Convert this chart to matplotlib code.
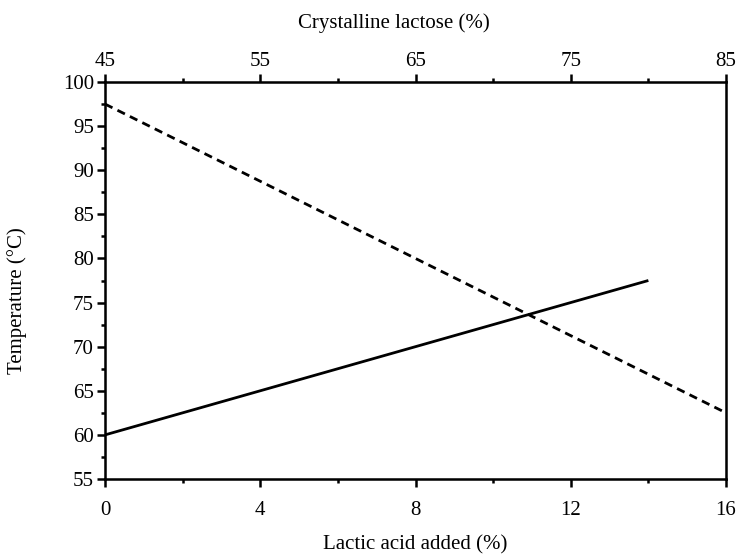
import matplotlib
matplotlib.use("Agg")
from matplotlib import pyplot as plt
from matplotlib.ticker import MultipleLocator

# data
lactic = [0, 14]
temp_solid = [60, 77.5]
lactic_d = [0, 16]
temp_dashed = [97.5, 62.5]
lactose_ticks = [45, 55, 65, 75, 85]
lactose_minor = [50, 60, 70, 80]

plt.rcParams['font.family'] = ['Liberation Serif', 'DejaVu Serif']
plt.rcParams['font.size'] = 15

fig = plt.figure(figsize=(7.36, 5.54), dpi=100)
ax = fig.add_axes([105 / 736, 1 - 479 / 554, 621 / 736, 397 / 554])

ax.plot(lactic, temp_solid, color='black', lw=2, solid_capstyle='butt')
ax.plot(lactic_d, temp_dashed, color='black', lw=2, dashes=(3, 2))

ax.set_xlim(0, 16)
ax.set_ylim(55, 100)
ax.xaxis.set_major_locator(MultipleLocator(4))
ax.xaxis.set_minor_locator(MultipleLocator(2))
ax.yaxis.set_major_locator(MultipleLocator(5))
ax.yaxis.set_minor_locator(MultipleLocator(2.5))
ax.tick_params(which='major', direction='out', length=6, width=1.8, labelsize=15)
ax.tick_params(which='minor', direction='out', length=3, width=1.8)
ax.tick_params(axis='x', pad=10)
ax.tick_params(axis='y', pad=2)
for s in ax.spines.values():
    s.set_linewidth(1.8)

ax.set_xlabel("Lactic acid added (%)", fontsize=15, labelpad=11)
ax.set_ylabel("Temperature (°C)", fontsize=15, labelpad=24)
ax.yaxis.set_label_coords(-78 / 621, 0.45)

top = ax.twiny()
top.set_xlim(45, 85)
top.set_xticks(lactose_ticks)
top.set_xticks(lactose_minor, minor=True)
top.tick_params(which='major', direction='out', length=6, width=1.8, labelsize=15, pad=2)
top.tick_params(which='minor', direction='out', length=3, width=1.8)
top.set_xlabel("Crystalline lactose (%)", fontsize=15)
top.xaxis.set_label_coords(0.465, 1.0 + 54 / 397)

fig.savefig("out.png", dpi=100)
